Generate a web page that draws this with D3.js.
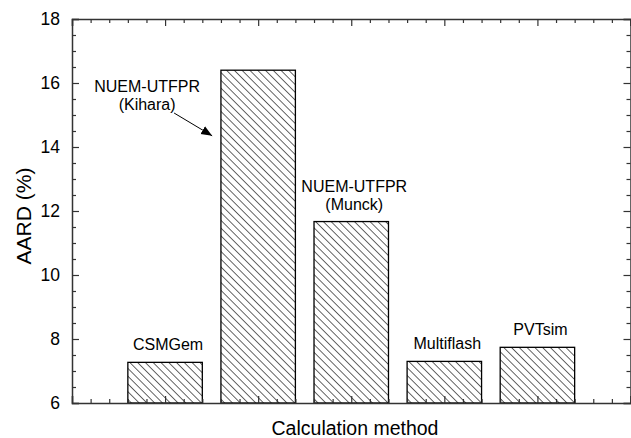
<!DOCTYPE html>
<html>
<head>
<meta charset="utf-8">
<script src="https://cdn.jsdelivr.net/npm/d3@7"></script>
<style>
  html, body { margin: 0; padding: 0; background: #fff; }
  svg { display: block; }
  text { font-family: "Liberation Sans", Arial, Helvetica, sans-serif; fill: #000; }
</style>
</head>
<body>
<svg id="chart" width="631" height="438"></svg>
<script>
// ---- data ----
const categories = ["CSMGem", "NUEM-UTFPR (Kihara)", "NUEM-UTFPR (Munck)", "Multiflash", "PVTsim"];
const aard = [7.27, 16.4, 11.67, 7.3, 7.74];
const yTicks = [6, 8, 10, 12, 14, 16, 18];
const xLabel = "Calculation method";
const yLabel = "AARD (%)";
// annotation lines per bar
const barLabels = [["CSMGem"], [], ["NUEM-UTFPR", "(Munck)"], ["Multiflash"], ["PVTsim"]];
const kiharaLabel = ["NUEM-UTFPR", "(Kihara)"];

// ---- layout ----
const W = 631, H = 438;
const m = { left: 72, right: 630.5, top: 19, bottom: 403 };

const svg = d3.select("#chart");

const x = d3.scaleLinear().domain([0, categories.length + 1]).range([m.left, m.right]);
const y = d3.scaleLinear().domain([6, 18]).range([m.bottom, m.top]);

// hatch pattern
const defs = svg.append("defs");
defs.append("pattern")
  .attr("id", "hatch")
  .attr("patternUnits", "userSpaceOnUse")
  .attr("width", 5.5).attr("height", 5.5)
  .attr("patternTransform", "rotate(-45)")
  .append("line")
  .attr("x1", 0).attr("y1", 0).attr("x2", 0).attr("y2", 5.5)
  .attr("stroke", "#000").attr("stroke-width", 1.2);

// bars
const bw = 0.8;
svg.append("g").selectAll("rect")
  .data(aard)
  .join("rect")
  .attr("x", (d, i) => x(i + 1 - bw / 2))
  .attr("width", (d, i) => x(i + 1 + bw / 2) - x(i + 1 - bw / 2))
  .attr("y", d => y(d))
  .attr("height", d => y(6) - y(d))
  .attr("fill", "url(#hatch)")
  .attr("stroke", "#000")
  .attr("stroke-width", 1.3);

// axes
const axColor = "#333";
const xMajor = d3.range(0, categories.length + 2, 1);
const xMinor = d3.range(0, categories.length + 1.001, 0.2).filter(v => Math.abs(v - Math.round(v)) > 1e-6);
const yMinor = d3.range(6, 18.001, 0.5).filter(v => Math.abs(v / 2 - Math.round(v / 2)) > 1e-6);

function styleAxis(g) {
  g.selectAll("path.domain").attr("stroke", axColor).attr("stroke-width", 1.5);
  g.selectAll(".tick line").attr("stroke", axColor).attr("stroke-width", 1.2);
}

// bottom
svg.append("g").attr("transform", `translate(0,${m.bottom})`)
  .call(d3.axisBottom(x).tickValues(xMajor).tickSize(-7).tickFormat(""))
  .call(styleAxis);
svg.append("g").attr("transform", `translate(0,${m.bottom})`)
  .call(d3.axisBottom(x).tickValues(xMinor).tickSize(-4).tickSizeOuter(0).tickFormat(""))
  .call(g => g.select("path.domain").remove())
  .call(styleAxis);
// top
svg.append("g").attr("transform", `translate(0,${m.top})`)
  .call(d3.axisTop(x).tickValues(xMajor).tickSize(-7).tickFormat(""))
  .call(styleAxis);
svg.append("g").attr("transform", `translate(0,${m.top})`)
  .call(d3.axisTop(x).tickValues(xMinor).tickSize(-4).tickSizeOuter(0).tickFormat(""))
  .call(g => g.select("path.domain").remove())
  .call(styleAxis);
// left
svg.append("g").attr("transform", `translate(${m.left},0)`)
  .call(d3.axisLeft(y).tickValues(yTicks).tickSize(-7).tickPadding(12).tickFormat(d3.format("d")))
  .call(styleAxis)
  .call(g => g.selectAll(".tick text").attr("font-size", 17.5).attr("font-family", "Liberation Sans, Arial, sans-serif").attr("fill", "#000"));
svg.append("g").attr("transform", `translate(${m.left},0)`)
  .call(d3.axisLeft(y).tickValues(yMinor).tickSize(-4).tickSizeOuter(0).tickFormat(""))
  .call(g => g.select("path.domain").remove())
  .call(styleAxis);
// right
svg.append("g").attr("transform", `translate(${m.right},0)`)
  .call(d3.axisRight(y).tickValues(yTicks).tickSize(-7).tickFormat(""))
  .call(styleAxis);
svg.append("g").attr("transform", `translate(${m.right},0)`)
  .call(d3.axisRight(y).tickValues(yMinor).tickSize(-4).tickSizeOuter(0).tickFormat(""))
  .call(g => g.select("path.domain").remove())
  .call(styleAxis);

// axis titles
svg.append("text")
  .attr("x", 355).attr("y", 435)
  .attr("text-anchor", "middle")
  .attr("font-size", 19.5)
  .text(xLabel);
svg.append("text")
  .attr("transform", `translate(31,${216}) rotate(-90)`)
  .attr("text-anchor", "middle")
  .attr("font-size", 21)
  .text(yLabel);

// bar annotations (multi-line labels as one text with tspans)
const fs = 16, lh = 18;
barLabels.forEach((lines, i) => {
  if (!lines.length) return;
  const top = y(aard[i]);
  const n = lines.length;
  const cx = x(i + 1) + 3;
  const t = svg.append("text")
    .attr("x", cx)
    .attr("y", top - 12 - (n - 1) * lh)
    .attr("text-anchor", "middle")
    .attr("font-size", fs);
  lines.forEach((s, k) => {
    t.append("tspan").attr("x", cx).attr("dy", k === 0 ? 0 : lh).text(s);
  });
});

// Kihara annotation with arrow
const kx = x(1) - 18, ky = y(16) + 9;
const kt = svg.append("text")
  .attr("x", kx).attr("y", ky)
  .attr("text-anchor", "middle")
  .attr("font-size", fs);
kiharaLabel.forEach((s, k) => {
  kt.append("tspan").attr("x", kx).attr("dy", k === 0 ? 0 : lh).text(s);
});
defs.append("marker")
  .attr("id", "arrow")
  .attr("viewBox", "0 0 10 10")
  .attr("refX", 10).attr("refY", 5)
  .attr("markerWidth", 11).attr("markerHeight", 11)
  .attr("markerUnits", "userSpaceOnUse")
  .attr("orient", "auto")
  .append("path")
  .attr("d", "M0,1 L10,5 L0,9 Z")
  .attr("fill", "#000");
svg.append("line")
  .attr("x1", kx + 27).attr("y1", ky + lh + 3)
  .attr("x2", x(2) - 46).attr("y2", y(14.35))
  .attr("stroke", "#000").attr("stroke-width", 1)
  .attr("marker-end", "url(#arrow)");
</script>
</body>
</html>
